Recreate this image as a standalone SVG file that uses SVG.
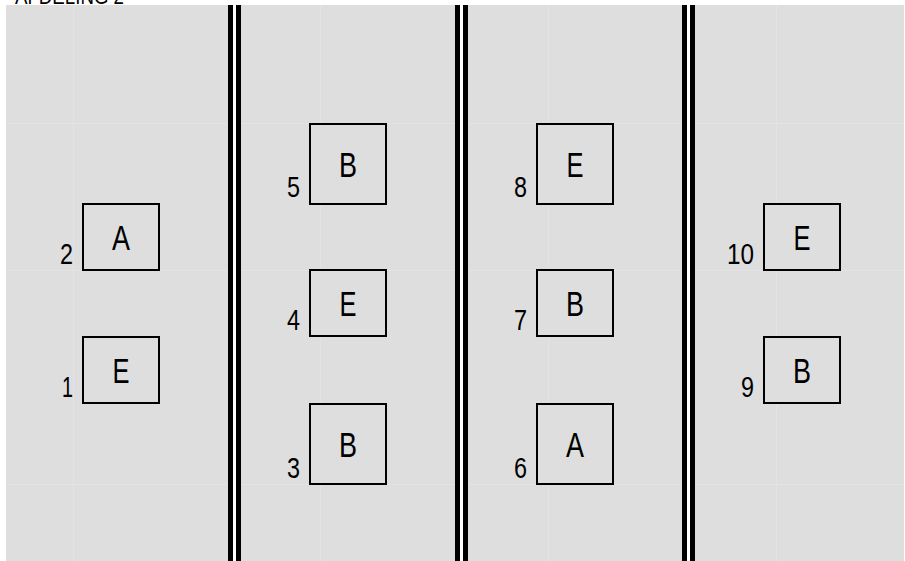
<svg xmlns="http://www.w3.org/2000/svg" width="905" height="561" viewBox="0 0 905 561">
<style>
.bg{fill:#dedede}
.gap{fill:#ffffff}
.bar{fill:#000000}
.faint{stroke:#e3e3e3;stroke-width:1;fill:none}
.box{fill:#dedede;stroke:#000000;stroke-width:2}
.lt{font-family:"Liberation Sans",Arial,sans-serif;font-size:35px;fill:#000;text-anchor:middle}
.num{font-family:"Liberation Sans",Arial,sans-serif;font-size:29px;fill:#000;text-anchor:end}
.title{font-family:"Liberation Sans",Arial,sans-serif;font-size:22px;fill:#000}
</style>
<rect width="905" height="561" fill="#ffffff"/>
<g id="background">
<rect class="bg" x="6" y="5" width="898" height="556"/>
<path class="faint" d="M73.5 5V561M320.5 5V561M548.5 5V561M776.5 5V561M6 123.5H904M6 270.5H904M6 484.5H904"/>
</g>
<text class="title" x="15" y="3.5" textLength="109" lengthAdjust="spacingAndGlyphs">AFDELING 2</text>
<g id="dividers">
<rect class="gap" x="233" y="5" width="3" height="556"/>
<rect class="bar" x="228" y="5" width="5" height="556"/>
<rect class="bar" x="236" y="5" width="5" height="556"/>
<rect class="gap" x="460" y="5" width="3" height="556"/>
<rect class="bar" x="455" y="5" width="5" height="556"/>
<rect class="bar" x="463" y="5" width="5" height="556"/>
<rect class="gap" x="687" y="5" width="3" height="556"/>
<rect class="bar" x="682" y="5" width="5" height="556"/>
<rect class="bar" x="690" y="5" width="5" height="556"/>
</g>
<g id="connectors"></g>
<g id="node1"><rect class="box" x="83" y="337" width="76" height="66"/><text class="lt" x="121" y="383" textLength="17" lengthAdjust="spacingAndGlyphs">E</text><text class="num" x="73" y="397" textLength="11" lengthAdjust="spacingAndGlyphs">1</text></g>
<g id="node2"><rect class="box" x="83" y="204" width="76" height="66"/><text class="lt" x="121" y="250" textLength="18" lengthAdjust="spacingAndGlyphs">A</text><text class="num" x="73" y="264" textLength="13" lengthAdjust="spacingAndGlyphs">2</text></g>
<g id="node3"><rect class="box" x="310" y="404" width="76" height="80"/><text class="lt" x="348" y="457" textLength="18" lengthAdjust="spacingAndGlyphs">B</text><text class="num" x="300" y="478" textLength="13" lengthAdjust="spacingAndGlyphs">3</text></g>
<g id="node4"><rect class="box" x="310" y="270" width="76" height="66"/><text class="lt" x="348" y="316" textLength="17" lengthAdjust="spacingAndGlyphs">E</text><text class="num" x="300" y="330" textLength="13" lengthAdjust="spacingAndGlyphs">4</text></g>
<g id="node5"><rect class="box" x="310" y="124" width="76" height="80"/><text class="lt" x="348" y="177" textLength="18" lengthAdjust="spacingAndGlyphs">B</text><text class="num" x="300" y="197" textLength="13" lengthAdjust="spacingAndGlyphs">5</text></g>
<g id="node6"><rect class="box" x="537" y="404" width="76" height="80"/><text class="lt" x="575" y="457" textLength="18" lengthAdjust="spacingAndGlyphs">A</text><text class="num" x="527" y="478" textLength="13" lengthAdjust="spacingAndGlyphs">6</text></g>
<g id="node7"><rect class="box" x="537" y="270" width="76" height="66"/><text class="lt" x="575" y="316" textLength="18" lengthAdjust="spacingAndGlyphs">B</text><text class="num" x="527" y="330" textLength="13" lengthAdjust="spacingAndGlyphs">7</text></g>
<g id="node8"><rect class="box" x="537" y="124" width="76" height="80"/><text class="lt" x="575" y="177" textLength="17" lengthAdjust="spacingAndGlyphs">E</text><text class="num" x="527" y="197" textLength="13" lengthAdjust="spacingAndGlyphs">8</text></g>
<g id="node9"><rect class="box" x="764" y="337" width="76" height="66"/><text class="lt" x="802" y="383" textLength="18" lengthAdjust="spacingAndGlyphs">B</text><text class="num" x="754" y="397" textLength="13" lengthAdjust="spacingAndGlyphs">9</text></g>
<g id="node10"><rect class="box" x="764" y="204" width="76" height="66"/><text class="lt" x="802" y="250" textLength="17" lengthAdjust="spacingAndGlyphs">E</text><text class="num" x="754" y="264" textLength="27" lengthAdjust="spacingAndGlyphs">10</text></g>
</svg>
